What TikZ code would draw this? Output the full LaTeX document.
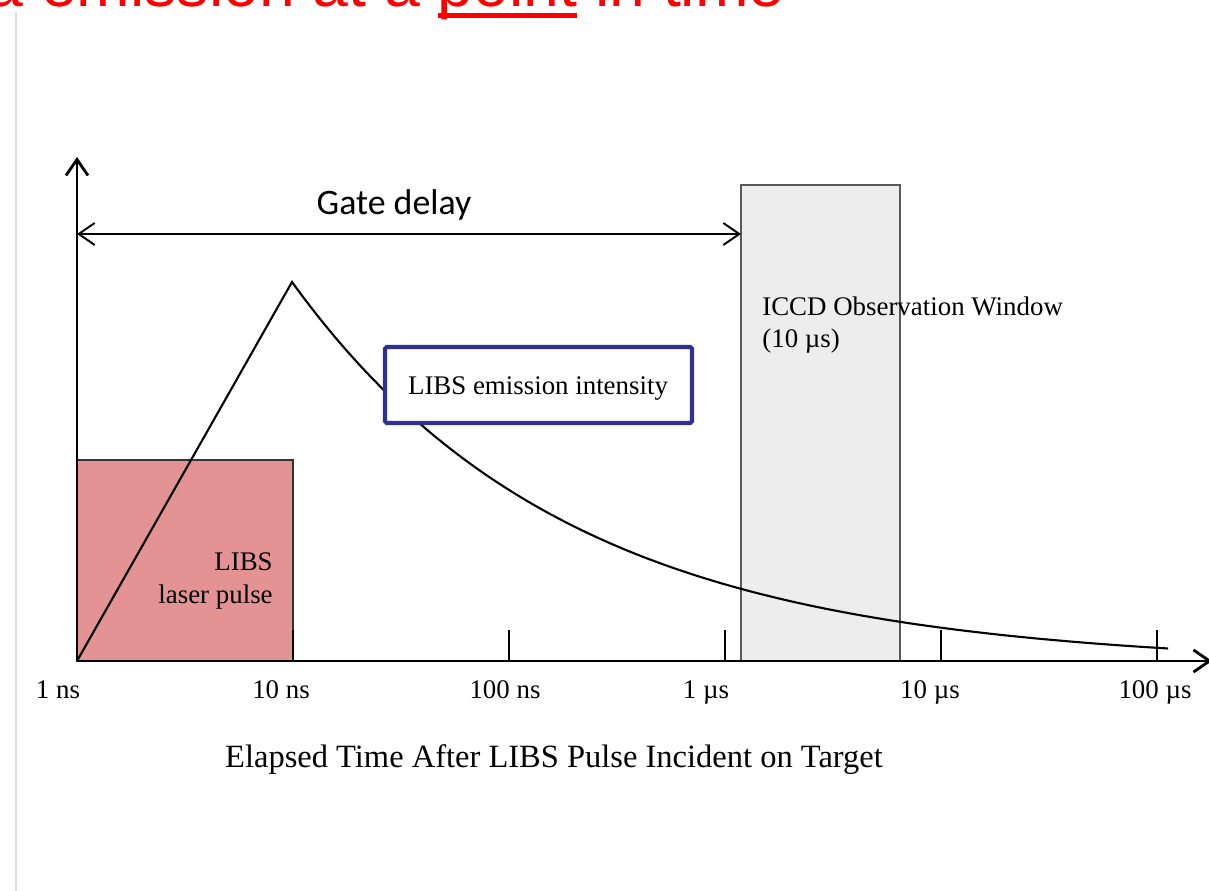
\documentclass[tikz,border=0pt]{standalone}
\usepackage{fontspec}
\setmainfont{Liberation Serif}
\newfontfamily\gatefont{Carlito}
\newfontfamily\headfont{Liberation Sans}
\usetikzlibrary{arrows.meta,positioning}
\definecolor{pulsered}{HTML}{E39393}
\definecolor{windowgray}{HTML}{EDEDED}
\definecolor{boxblue}{HTML}{2E3192}
% underline drawn through the descender, as on the slide
\newcommand\ulword[1]{\setbox0\hbox{#1}\rlap{\rule[-0.17em]{\wd0}{0.075em}}\box0\relax}
\tikzset{>={Straight Barb[length=3.2mm,width=4.4mm]},
  axis/.style={line width=1.6pt},
  tick/.style={line width=1.4pt},
  curve/.style={line width=1.2pt},
  tick label/.style={anchor=base,inner sep=0pt,font=\fontsize{15.3}{18}\selectfont},
  label text/.style={inner sep=0pt,font=\fontsize{15.3}{18.5}\selectfont},
  pulse box/.style={fill=pulsered,draw=black!80,line width=0.7pt},
  window box/.style={fill=windowgray,draw=black!65,line width=0.7pt},
  key box/.style={fill=white,draw=boxblue,line width=2.3pt,rounded corners=1pt}}

\begin{document}
\begin{tikzpicture}[x=0.02cm,y=-0.02cm]
    \clip (0,0) rectangle (1209,891);
    \fill[white] (0,0) rectangle (1209,891);
    \draw[black!12,line width=0.05cm] (16,12) -- (16,891);
    % heading, cut off by the top edge
    \node[anchor=base east,inner sep=0pt,text=red,font=\headfont\fontsize{36.6}{40}\selectfont] (head) at (785,7) {a emission at a \ulword{point} in time};

    \coordinate (origin) at (77,661);
    \coordinate (peak) at (292,282);
    \coordinate (ytop) at (77,157);
    \coordinate (xend) at (1212,661);

    % laser pulse and camera gate
    \draw[pulse box] (origin) rectangle (293,460);
    \node[label text,anchor=base east,align=right] (pulse) at (273,603) {LIBS\\laser pulse};
    \draw[window box] (741,661) rectangle (900,185);
    \node[label text,anchor=north west,align=left] (window) at (762,296) {ICCD Observation Window\\(10 µs)};

    % axes and decade ticks
    \draw[axis,->] (origin) -- (xend);
    \draw[axis,->] (origin) -- (ytop);
    \foreach \tx in {293,509,725,941,1157}
      \draw[tick] (\tx,661) -- (\tx,630);
    \node[tick label] (t1) at (58,698) {1 ns};
    \node[tick label] (t2) at (281,698) {10 ns};
    \node[tick label] (t3) at (505,698) {100 ns};
    \node[tick label] (t4) at (706,698) {1 µs};
    \node[tick label] (t5) at (930,698) {10 µs};
    \node[tick label] (t6) at (1155,698) {100 µs};
    \node[anchor=base,inner sep=0pt,font=\fontsize{18.5}{22}\selectfont] (xlabel) at (554,767) {Elapsed Time After LIBS Pulse Incident on Target};

    % emission: linear rise, exponential decay
    \draw[curve] (origin) -- (peak) -- plot[smooth,domain=292:1168,samples=80] (\x,{661-379*exp(-0.00365*(\x-292))+3*(\x-292)/876});

    % gate delay
    \coordinate (gstart) at (77,234);
    \coordinate (gend) at (741,234);
    \draw[line width=1.1pt,<->] (gstart) -- (gend);
    \node[anchor=base,inner sep=0pt,font=\gatefont\fontsize{20.4}{24}\selectfont] (gate) at (394,215) {Gate delay};

    \draw[key box] (385,347) rectangle (692,423);
    \node[label text,anchor=base] (intensity) at (538,395) {LIBS emission intensity};
\end{tikzpicture}
\end{document}
